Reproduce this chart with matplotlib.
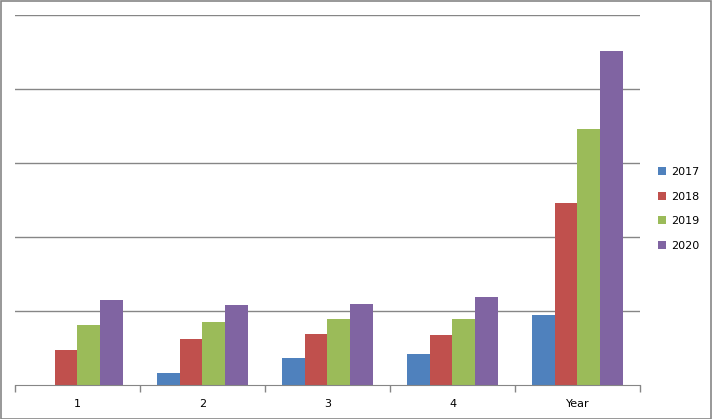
import matplotlib.pyplot as plt
import numpy as np

categories = ['1', '2', '3', '4', 'Year']
years = ['2017', '2018', '2019', '2020']
v2017 = [0.00, 0.16, 0.36, 0.42, 0.95]
v2018 = [0.47, 0.62, 0.69, 0.68, 2.46]
v2019 = [0.81, 0.85, 0.89, 0.89, 3.46]
v2020 = [1.15, 1.08, 1.09, 1.19, 4.51]
colors = ['#4F81BD', '#C0504D', '#9BBB59', '#8064A2']

W, H = 712, 419
fig = plt.figure(figsize=(W / 100, H / 100), dpi=100)
ax = fig.add_axes([15 / W, (H - 385) / H, 625 / W, 370 / H])

x = np.arange(len(categories))
bw = 0.182
for i, (vals, c, lab) in enumerate(zip([v2017, v2018, v2019, v2020], colors, years)):
    ax.bar(x + (i - 1.5) * bw, vals, width=bw * 1.01, color=c, label=lab, zorder=2,
           linewidth=0)

ax.set_xlim(-0.5, len(categories) - 0.5)
ax.set_ylim(0, 5)
ax.set_yticks(np.arange(1, 6))
ax.yaxis.grid(True, color='#868686', linewidth=1)
ax.tick_params(axis='y', left=False, labelleft=False)

# boundary tick marks, labels centred
ax.set_xticks(np.arange(-0.5, len(categories)))
ax.set_xticklabels([])
ax.set_xticks(x, minor=True)
ax.set_xticklabels(categories, minor=True, fontsize=8)
ax.tick_params(axis='x', which='major', length=5, color='#868686', width=1)
ax.tick_params(axis='x', which='minor', length=0, pad=10)

for s in ['top', 'right', 'left']:
    ax.spines[s].set_visible(False)
ax.spines['bottom'].set_color('#868686')

ax.legend(loc='center left', bbox_to_anchor=(633 / 625, 0.476), frameon=False,
          fontsize=8, handlelength=0.7, handleheight=0.7, labelspacing=1.3, handletextpad=0.45)

# outer frame
fig.patches.append(plt.Rectangle((0.5 / W, 0.5 / H), 1 - 2 / W, 1 - 2 / H, transform=fig.transFigure,
                                 fill=False, edgecolor='#868686', linewidth=1.2))

fig.savefig('out.png', dpi=100)
